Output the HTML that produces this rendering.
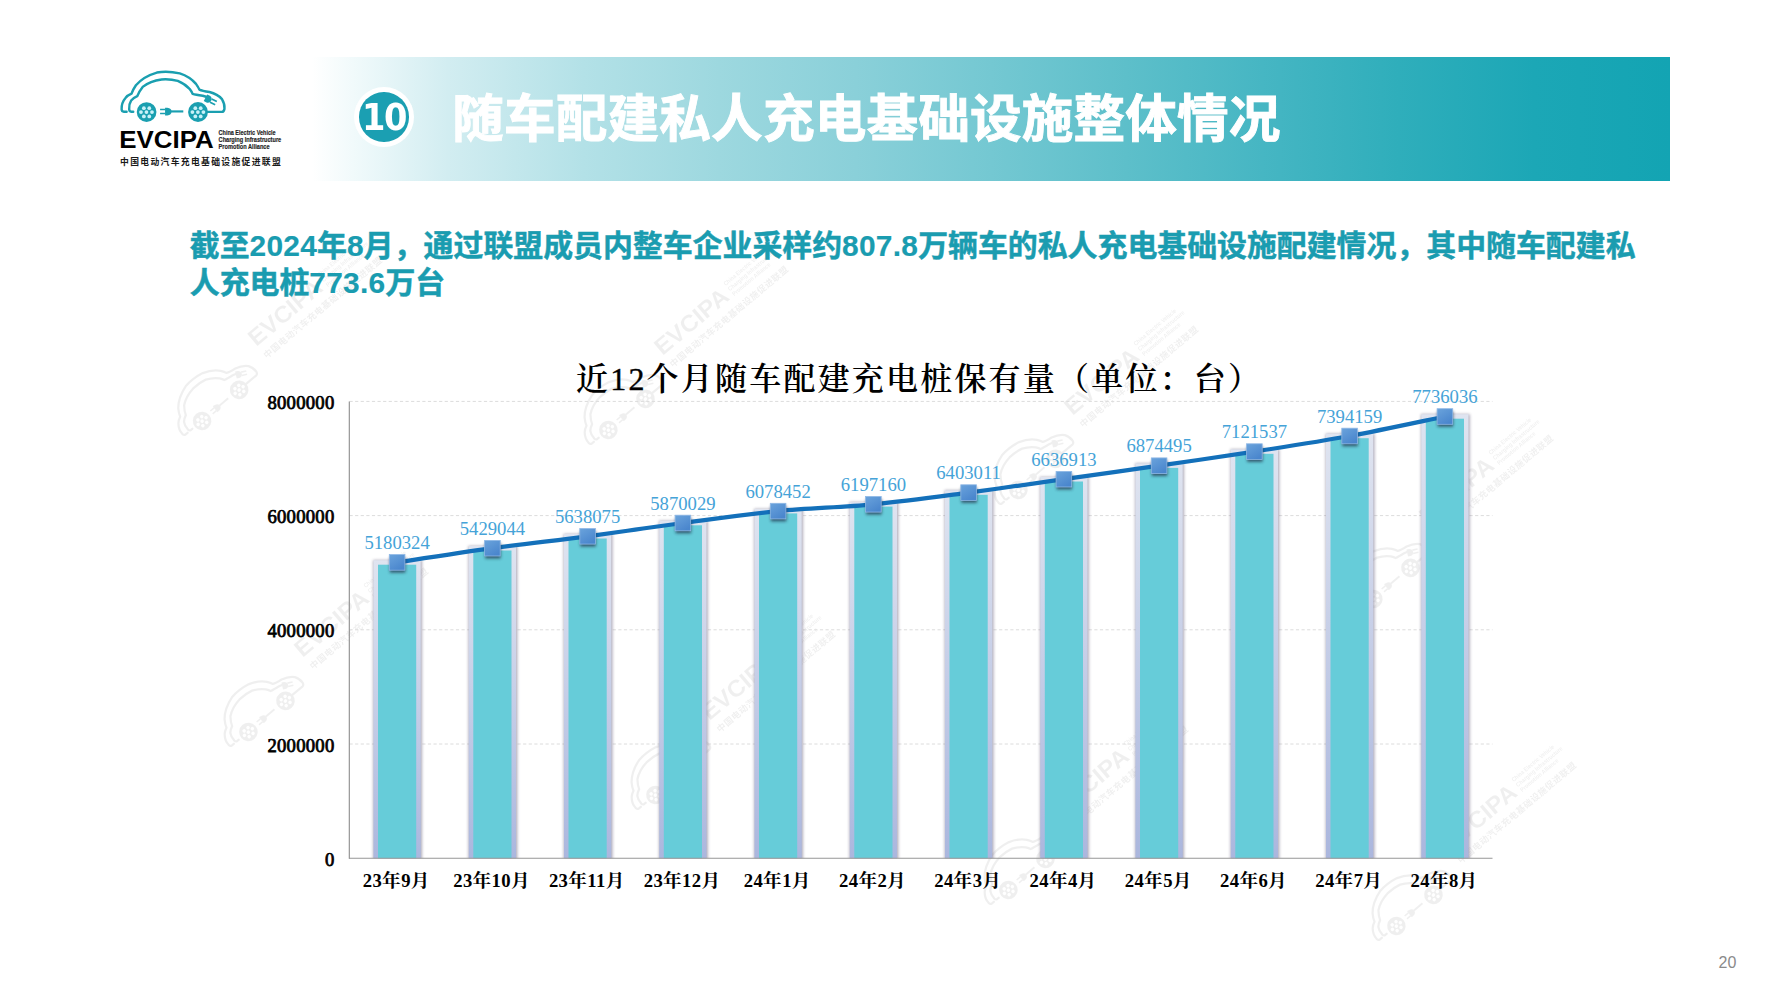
<!DOCTYPE html>
<html lang="zh-CN"><head><meta charset="utf-8"><title>随车配建私人充电基础设施整体情况</title>
<style>
html,body{margin:0;padding:0;background:#fff;}
body{width:1778px;height:1000px;position:relative;overflow:hidden;font-family:"Liberation Sans","Noto Sans CJK SC",sans-serif;}
.banner{position:absolute;left:312px;top:57px;width:1358px;height:124px;background:linear-gradient(90deg,#ffffff 0%,#f1fafb 3%,#d2edf1 10%,#b3e1e7 20%,#9dd8df 30%,#8ad0d9 40%,#74c8d2 50%,#5dbfca 60%,#46b6c3 70%,#2faebb 80%,#1ca7b6 90%,#13a4b3 100%);}
.num{position:absolute;left:354.3px;top:87px;width:60px;height:60px;border-radius:50%;background:#fff;}
.num i{position:absolute;left:5.2px;top:5.2px;width:49.6px;height:49.6px;border-radius:50%;background:#1b9fb2;}
.num b{position:absolute;left:-20px;top:0;width:100px;height:60px;line-height:60px;text-align:center;color:#fff;font:bold 37px/61.6px "DejaVu Sans","Liberation Sans",sans-serif;transform:scaleX(0.91);letter-spacing:-1.6px;}
.title{position:absolute;left:452.3px;top:80px;margin:0;font-size:51.6px;line-height:78px;font-weight:700;color:#fff;white-space:nowrap;letter-spacing:0.17px;-webkit-text-stroke:0.9px #fff;}
.sub{position:absolute;left:189.8px;top:228.3px;width:1462px;margin:0;font-size:29.9px;line-height:36.5px;font-weight:700;color:#1a9cb0;-webkit-text-stroke:0.5px #1a9cb0;}
.sub span{-webkit-text-stroke:0.15px #1a9cb0;letter-spacing:0.25px;}
.pg{position:absolute;left:1718.5px;top:954px;font-size:16px;color:#8a8a8a;}
.chart{position:absolute;left:0;top:0;}
.chart text{font-family:"Liberation Serif","Noto Serif CJK SC",serif;}
.dl{font-size:18.67px;fill:#45a3d8;}
.yl{font-size:18.67px;font-weight:400;fill:#000;stroke:#000;stroke-width:0.75px;letter-spacing:0.25px;}
.xl{font-size:18.67px;font-weight:700;fill:#000;letter-spacing:0.35px;}
.chart text.ct{font-size:32px;fill:#000;letter-spacing:2.2px;font-weight:600;}
.logo{position:absolute;left:0;top:0;}
.wm{position:absolute;left:0;top:0;width:1778px;height:1000px;pointer-events:none;}
</style></head><body>
<svg class="wm" width="1778" height="1000" viewBox="0 0 1778 1000" opacity="0.06">
<g transform="translate(201.7,421) rotate(-40) scale(0.94) translate(-146.2,-111.8)">
<g transform="translate(115,65) scale(0.06749)" fill="none" stroke="#000" stroke-width="36" stroke-linecap="round" stroke-linejoin="round">
<path d="M172,693 L132,693 Q100,690 98,655 Q94,560 158,485 Q185,450 245,425 Q262,370 310,300 Q420,170 620,112 Q780,85 960,125 Q1110,175 1200,280 Q1235,330 1250,365 Q1290,385 1400,400 Q1520,430 1585,505 Q1630,580 1622,650 Q1612,693 1585,695 L1375,695"/>
<path d="M270,693 L242,693 Q212,690 210,655 Q203,585 240,525 Q275,485 330,462 Q350,400 410,325 Q520,235 690,214 Q820,205 930,235 Q1040,280 1110,360 Q1140,400 1150,428 Q1190,440 1300,456 L1350,470"/>
<path d="M830,688 L1012,688" stroke-width="32" stroke-linecap="butt"/>
<path d="M668,660 L745,660 M668,718 L745,718" stroke-width="24" stroke-linecap="butt"/>
<path d="M742,632 L775,632 Q838,640 838,689 Q838,740 775,747 L742,747 Z" fill="#000" stroke="none"/>
<g transform="translate(1385,508) rotate(27)">
<path d="M-50,-56 L-5,-56 Q46,-46 46,0 Q46,46 -5,56 L-50,56 Z" fill="#000" stroke="none"/>
<path d="M40,-27 L125,-27 M40,27 L125,27" stroke-width="25" stroke-linecap="butt"/>
</g>
<circle cx="468" cy="697" r="146" fill="#000" stroke="none"/>
<circle cx="1230" cy="697" r="147" fill="#000" stroke="none"/>
<g fill="#fff" stroke="none">
<circle cx="428" cy="640" r="28"/><circle cx="508" cy="640" r="28"/>
<circle cx="385" cy="698" r="28"/><circle cx="466" cy="698" r="28"/><circle cx="548" cy="698" r="28"/>
<circle cx="428" cy="762" r="28"/><circle cx="508" cy="762" r="28"/>
<circle cx="1190" cy="640" r="28"/><circle cx="1270" cy="640" r="28"/>
<circle cx="1147" cy="698" r="28"/><circle cx="1228" cy="698" r="28"/><circle cx="1310" cy="698" r="28"/>
<circle cx="1190" cy="762" r="28"/><circle cx="1270" cy="762" r="28"/>
</g>
</g>

<g transform="translate(122,-60)">
<text x="119.2" y="148.9" font-family="'Liberation Sans',sans-serif" font-weight="700" font-size="24.9" fill="#000" textLength="94.5" lengthAdjust="spacingAndGlyphs">EVCIPA</text>
<g font-family="'Liberation Sans',sans-serif" font-weight="700" font-size="6.6" fill="#000">
<text x="218.6" y="135" textLength="57" lengthAdjust="spacingAndGlyphs">China Electric Vehicle</text>
<text x="218.6" y="142.1" textLength="62.6" lengthAdjust="spacingAndGlyphs">Charging Infrastructure</text>
<text x="218.6" y="149.1" textLength="51" lengthAdjust="spacingAndGlyphs">Promotion Alliance</text>
</g>
<text x="119.6" y="165.6" font-family="'Noto Sans CJK SC',sans-serif" font-weight="700" font-size="9.6" fill="#000" textLength="161.2" lengthAdjust="spacing">中国电动汽车充电基础设施促进联盟</text>
</g>
</g>
<g transform="translate(608,430) rotate(-40) scale(0.94) translate(-146.2,-111.8)">
<g transform="translate(115,65) scale(0.06749)" fill="none" stroke="#000" stroke-width="36" stroke-linecap="round" stroke-linejoin="round">
<path d="M172,693 L132,693 Q100,690 98,655 Q94,560 158,485 Q185,450 245,425 Q262,370 310,300 Q420,170 620,112 Q780,85 960,125 Q1110,175 1200,280 Q1235,330 1250,365 Q1290,385 1400,400 Q1520,430 1585,505 Q1630,580 1622,650 Q1612,693 1585,695 L1375,695"/>
<path d="M270,693 L242,693 Q212,690 210,655 Q203,585 240,525 Q275,485 330,462 Q350,400 410,325 Q520,235 690,214 Q820,205 930,235 Q1040,280 1110,360 Q1140,400 1150,428 Q1190,440 1300,456 L1350,470"/>
<path d="M830,688 L1012,688" stroke-width="32" stroke-linecap="butt"/>
<path d="M668,660 L745,660 M668,718 L745,718" stroke-width="24" stroke-linecap="butt"/>
<path d="M742,632 L775,632 Q838,640 838,689 Q838,740 775,747 L742,747 Z" fill="#000" stroke="none"/>
<g transform="translate(1385,508) rotate(27)">
<path d="M-50,-56 L-5,-56 Q46,-46 46,0 Q46,46 -5,56 L-50,56 Z" fill="#000" stroke="none"/>
<path d="M40,-27 L125,-27 M40,27 L125,27" stroke-width="25" stroke-linecap="butt"/>
</g>
<circle cx="468" cy="697" r="146" fill="#000" stroke="none"/>
<circle cx="1230" cy="697" r="147" fill="#000" stroke="none"/>
<g fill="#fff" stroke="none">
<circle cx="428" cy="640" r="28"/><circle cx="508" cy="640" r="28"/>
<circle cx="385" cy="698" r="28"/><circle cx="466" cy="698" r="28"/><circle cx="548" cy="698" r="28"/>
<circle cx="428" cy="762" r="28"/><circle cx="508" cy="762" r="28"/>
<circle cx="1190" cy="640" r="28"/><circle cx="1270" cy="640" r="28"/>
<circle cx="1147" cy="698" r="28"/><circle cx="1228" cy="698" r="28"/><circle cx="1310" cy="698" r="28"/>
<circle cx="1190" cy="762" r="28"/><circle cx="1270" cy="762" r="28"/>
</g>
</g>

<g transform="translate(122,-60)">
<text x="119.2" y="148.9" font-family="'Liberation Sans',sans-serif" font-weight="700" font-size="24.9" fill="#000" textLength="94.5" lengthAdjust="spacingAndGlyphs">EVCIPA</text>
<g font-family="'Liberation Sans',sans-serif" font-weight="700" font-size="6.6" fill="#000">
<text x="218.6" y="135" textLength="57" lengthAdjust="spacingAndGlyphs">China Electric Vehicle</text>
<text x="218.6" y="142.1" textLength="62.6" lengthAdjust="spacingAndGlyphs">Charging Infrastructure</text>
<text x="218.6" y="149.1" textLength="51" lengthAdjust="spacingAndGlyphs">Promotion Alliance</text>
</g>
<text x="119.6" y="165.6" font-family="'Noto Sans CJK SC',sans-serif" font-weight="700" font-size="9.6" fill="#000" textLength="161.2" lengthAdjust="spacing">中国电动汽车充电基础设施促进联盟</text>
</g>
</g>
<g transform="translate(248,732) rotate(-40) scale(0.94) translate(-146.2,-111.8)">
<g transform="translate(115,65) scale(0.06749)" fill="none" stroke="#000" stroke-width="36" stroke-linecap="round" stroke-linejoin="round">
<path d="M172,693 L132,693 Q100,690 98,655 Q94,560 158,485 Q185,450 245,425 Q262,370 310,300 Q420,170 620,112 Q780,85 960,125 Q1110,175 1200,280 Q1235,330 1250,365 Q1290,385 1400,400 Q1520,430 1585,505 Q1630,580 1622,650 Q1612,693 1585,695 L1375,695"/>
<path d="M270,693 L242,693 Q212,690 210,655 Q203,585 240,525 Q275,485 330,462 Q350,400 410,325 Q520,235 690,214 Q820,205 930,235 Q1040,280 1110,360 Q1140,400 1150,428 Q1190,440 1300,456 L1350,470"/>
<path d="M830,688 L1012,688" stroke-width="32" stroke-linecap="butt"/>
<path d="M668,660 L745,660 M668,718 L745,718" stroke-width="24" stroke-linecap="butt"/>
<path d="M742,632 L775,632 Q838,640 838,689 Q838,740 775,747 L742,747 Z" fill="#000" stroke="none"/>
<g transform="translate(1385,508) rotate(27)">
<path d="M-50,-56 L-5,-56 Q46,-46 46,0 Q46,46 -5,56 L-50,56 Z" fill="#000" stroke="none"/>
<path d="M40,-27 L125,-27 M40,27 L125,27" stroke-width="25" stroke-linecap="butt"/>
</g>
<circle cx="468" cy="697" r="146" fill="#000" stroke="none"/>
<circle cx="1230" cy="697" r="147" fill="#000" stroke="none"/>
<g fill="#fff" stroke="none">
<circle cx="428" cy="640" r="28"/><circle cx="508" cy="640" r="28"/>
<circle cx="385" cy="698" r="28"/><circle cx="466" cy="698" r="28"/><circle cx="548" cy="698" r="28"/>
<circle cx="428" cy="762" r="28"/><circle cx="508" cy="762" r="28"/>
<circle cx="1190" cy="640" r="28"/><circle cx="1270" cy="640" r="28"/>
<circle cx="1147" cy="698" r="28"/><circle cx="1228" cy="698" r="28"/><circle cx="1310" cy="698" r="28"/>
<circle cx="1190" cy="762" r="28"/><circle cx="1270" cy="762" r="28"/>
</g>
</g>

<g transform="translate(122,-60)">
<text x="119.2" y="148.9" font-family="'Liberation Sans',sans-serif" font-weight="700" font-size="24.9" fill="#000" textLength="94.5" lengthAdjust="spacingAndGlyphs">EVCIPA</text>
<g font-family="'Liberation Sans',sans-serif" font-weight="700" font-size="6.6" fill="#000">
<text x="218.6" y="135" textLength="57" lengthAdjust="spacingAndGlyphs">China Electric Vehicle</text>
<text x="218.6" y="142.1" textLength="62.6" lengthAdjust="spacingAndGlyphs">Charging Infrastructure</text>
<text x="218.6" y="149.1" textLength="51" lengthAdjust="spacingAndGlyphs">Promotion Alliance</text>
</g>
<text x="119.6" y="165.6" font-family="'Noto Sans CJK SC',sans-serif" font-weight="700" font-size="9.6" fill="#000" textLength="161.2" lengthAdjust="spacing">中国电动汽车充电基础设施促进联盟</text>
</g>
</g>
<g transform="translate(655,795) rotate(-40) scale(0.94) translate(-146.2,-111.8)">
<g transform="translate(115,65) scale(0.06749)" fill="none" stroke="#000" stroke-width="36" stroke-linecap="round" stroke-linejoin="round">
<path d="M172,693 L132,693 Q100,690 98,655 Q94,560 158,485 Q185,450 245,425 Q262,370 310,300 Q420,170 620,112 Q780,85 960,125 Q1110,175 1200,280 Q1235,330 1250,365 Q1290,385 1400,400 Q1520,430 1585,505 Q1630,580 1622,650 Q1612,693 1585,695 L1375,695"/>
<path d="M270,693 L242,693 Q212,690 210,655 Q203,585 240,525 Q275,485 330,462 Q350,400 410,325 Q520,235 690,214 Q820,205 930,235 Q1040,280 1110,360 Q1140,400 1150,428 Q1190,440 1300,456 L1350,470"/>
<path d="M830,688 L1012,688" stroke-width="32" stroke-linecap="butt"/>
<path d="M668,660 L745,660 M668,718 L745,718" stroke-width="24" stroke-linecap="butt"/>
<path d="M742,632 L775,632 Q838,640 838,689 Q838,740 775,747 L742,747 Z" fill="#000" stroke="none"/>
<g transform="translate(1385,508) rotate(27)">
<path d="M-50,-56 L-5,-56 Q46,-46 46,0 Q46,46 -5,56 L-50,56 Z" fill="#000" stroke="none"/>
<path d="M40,-27 L125,-27 M40,27 L125,27" stroke-width="25" stroke-linecap="butt"/>
</g>
<circle cx="468" cy="697" r="146" fill="#000" stroke="none"/>
<circle cx="1230" cy="697" r="147" fill="#000" stroke="none"/>
<g fill="#fff" stroke="none">
<circle cx="428" cy="640" r="28"/><circle cx="508" cy="640" r="28"/>
<circle cx="385" cy="698" r="28"/><circle cx="466" cy="698" r="28"/><circle cx="548" cy="698" r="28"/>
<circle cx="428" cy="762" r="28"/><circle cx="508" cy="762" r="28"/>
<circle cx="1190" cy="640" r="28"/><circle cx="1270" cy="640" r="28"/>
<circle cx="1147" cy="698" r="28"/><circle cx="1228" cy="698" r="28"/><circle cx="1310" cy="698" r="28"/>
<circle cx="1190" cy="762" r="28"/><circle cx="1270" cy="762" r="28"/>
</g>
</g>

<g transform="translate(122,-60)">
<text x="119.2" y="148.9" font-family="'Liberation Sans',sans-serif" font-weight="700" font-size="24.9" fill="#000" textLength="94.5" lengthAdjust="spacingAndGlyphs">EVCIPA</text>
<g font-family="'Liberation Sans',sans-serif" font-weight="700" font-size="6.6" fill="#000">
<text x="218.6" y="135" textLength="57" lengthAdjust="spacingAndGlyphs">China Electric Vehicle</text>
<text x="218.6" y="142.1" textLength="62.6" lengthAdjust="spacingAndGlyphs">Charging Infrastructure</text>
<text x="218.6" y="149.1" textLength="51" lengthAdjust="spacingAndGlyphs">Promotion Alliance</text>
</g>
<text x="119.6" y="165.6" font-family="'Noto Sans CJK SC',sans-serif" font-weight="700" font-size="9.6" fill="#000" textLength="161.2" lengthAdjust="spacing">中国电动汽车充电基础设施促进联盟</text>
</g>
</g>
<g transform="translate(1018,490) rotate(-40) scale(0.94) translate(-146.2,-111.8)">
<g transform="translate(115,65) scale(0.06749)" fill="none" stroke="#000" stroke-width="36" stroke-linecap="round" stroke-linejoin="round">
<path d="M172,693 L132,693 Q100,690 98,655 Q94,560 158,485 Q185,450 245,425 Q262,370 310,300 Q420,170 620,112 Q780,85 960,125 Q1110,175 1200,280 Q1235,330 1250,365 Q1290,385 1400,400 Q1520,430 1585,505 Q1630,580 1622,650 Q1612,693 1585,695 L1375,695"/>
<path d="M270,693 L242,693 Q212,690 210,655 Q203,585 240,525 Q275,485 330,462 Q350,400 410,325 Q520,235 690,214 Q820,205 930,235 Q1040,280 1110,360 Q1140,400 1150,428 Q1190,440 1300,456 L1350,470"/>
<path d="M830,688 L1012,688" stroke-width="32" stroke-linecap="butt"/>
<path d="M668,660 L745,660 M668,718 L745,718" stroke-width="24" stroke-linecap="butt"/>
<path d="M742,632 L775,632 Q838,640 838,689 Q838,740 775,747 L742,747 Z" fill="#000" stroke="none"/>
<g transform="translate(1385,508) rotate(27)">
<path d="M-50,-56 L-5,-56 Q46,-46 46,0 Q46,46 -5,56 L-50,56 Z" fill="#000" stroke="none"/>
<path d="M40,-27 L125,-27 M40,27 L125,27" stroke-width="25" stroke-linecap="butt"/>
</g>
<circle cx="468" cy="697" r="146" fill="#000" stroke="none"/>
<circle cx="1230" cy="697" r="147" fill="#000" stroke="none"/>
<g fill="#fff" stroke="none">
<circle cx="428" cy="640" r="28"/><circle cx="508" cy="640" r="28"/>
<circle cx="385" cy="698" r="28"/><circle cx="466" cy="698" r="28"/><circle cx="548" cy="698" r="28"/>
<circle cx="428" cy="762" r="28"/><circle cx="508" cy="762" r="28"/>
<circle cx="1190" cy="640" r="28"/><circle cx="1270" cy="640" r="28"/>
<circle cx="1147" cy="698" r="28"/><circle cx="1228" cy="698" r="28"/><circle cx="1310" cy="698" r="28"/>
<circle cx="1190" cy="762" r="28"/><circle cx="1270" cy="762" r="28"/>
</g>
</g>

<g transform="translate(122,-60)">
<text x="119.2" y="148.9" font-family="'Liberation Sans',sans-serif" font-weight="700" font-size="24.9" fill="#000" textLength="94.5" lengthAdjust="spacingAndGlyphs">EVCIPA</text>
<g font-family="'Liberation Sans',sans-serif" font-weight="700" font-size="6.6" fill="#000">
<text x="218.6" y="135" textLength="57" lengthAdjust="spacingAndGlyphs">China Electric Vehicle</text>
<text x="218.6" y="142.1" textLength="62.6" lengthAdjust="spacingAndGlyphs">Charging Infrastructure</text>
<text x="218.6" y="149.1" textLength="51" lengthAdjust="spacingAndGlyphs">Promotion Alliance</text>
</g>
<text x="119.6" y="165.6" font-family="'Noto Sans CJK SC',sans-serif" font-weight="700" font-size="9.6" fill="#000" textLength="161.2" lengthAdjust="spacing">中国电动汽车充电基础设施促进联盟</text>
</g>
</g>
<g transform="translate(1373,599) rotate(-40) scale(0.94) translate(-146.2,-111.8)">
<g transform="translate(115,65) scale(0.06749)" fill="none" stroke="#000" stroke-width="36" stroke-linecap="round" stroke-linejoin="round">
<path d="M172,693 L132,693 Q100,690 98,655 Q94,560 158,485 Q185,450 245,425 Q262,370 310,300 Q420,170 620,112 Q780,85 960,125 Q1110,175 1200,280 Q1235,330 1250,365 Q1290,385 1400,400 Q1520,430 1585,505 Q1630,580 1622,650 Q1612,693 1585,695 L1375,695"/>
<path d="M270,693 L242,693 Q212,690 210,655 Q203,585 240,525 Q275,485 330,462 Q350,400 410,325 Q520,235 690,214 Q820,205 930,235 Q1040,280 1110,360 Q1140,400 1150,428 Q1190,440 1300,456 L1350,470"/>
<path d="M830,688 L1012,688" stroke-width="32" stroke-linecap="butt"/>
<path d="M668,660 L745,660 M668,718 L745,718" stroke-width="24" stroke-linecap="butt"/>
<path d="M742,632 L775,632 Q838,640 838,689 Q838,740 775,747 L742,747 Z" fill="#000" stroke="none"/>
<g transform="translate(1385,508) rotate(27)">
<path d="M-50,-56 L-5,-56 Q46,-46 46,0 Q46,46 -5,56 L-50,56 Z" fill="#000" stroke="none"/>
<path d="M40,-27 L125,-27 M40,27 L125,27" stroke-width="25" stroke-linecap="butt"/>
</g>
<circle cx="468" cy="697" r="146" fill="#000" stroke="none"/>
<circle cx="1230" cy="697" r="147" fill="#000" stroke="none"/>
<g fill="#fff" stroke="none">
<circle cx="428" cy="640" r="28"/><circle cx="508" cy="640" r="28"/>
<circle cx="385" cy="698" r="28"/><circle cx="466" cy="698" r="28"/><circle cx="548" cy="698" r="28"/>
<circle cx="428" cy="762" r="28"/><circle cx="508" cy="762" r="28"/>
<circle cx="1190" cy="640" r="28"/><circle cx="1270" cy="640" r="28"/>
<circle cx="1147" cy="698" r="28"/><circle cx="1228" cy="698" r="28"/><circle cx="1310" cy="698" r="28"/>
<circle cx="1190" cy="762" r="28"/><circle cx="1270" cy="762" r="28"/>
</g>
</g>

<g transform="translate(122,-60)">
<text x="119.2" y="148.9" font-family="'Liberation Sans',sans-serif" font-weight="700" font-size="24.9" fill="#000" textLength="94.5" lengthAdjust="spacingAndGlyphs">EVCIPA</text>
<g font-family="'Liberation Sans',sans-serif" font-weight="700" font-size="6.6" fill="#000">
<text x="218.6" y="135" textLength="57" lengthAdjust="spacingAndGlyphs">China Electric Vehicle</text>
<text x="218.6" y="142.1" textLength="62.6" lengthAdjust="spacingAndGlyphs">Charging Infrastructure</text>
<text x="218.6" y="149.1" textLength="51" lengthAdjust="spacingAndGlyphs">Promotion Alliance</text>
</g>
<text x="119.6" y="165.6" font-family="'Noto Sans CJK SC',sans-serif" font-weight="700" font-size="9.6" fill="#000" textLength="161.2" lengthAdjust="spacing">中国电动汽车充电基础设施促进联盟</text>
</g>
</g>
<g transform="translate(1008,890) rotate(-40) scale(0.94) translate(-146.2,-111.8)">
<g transform="translate(115,65) scale(0.06749)" fill="none" stroke="#000" stroke-width="36" stroke-linecap="round" stroke-linejoin="round">
<path d="M172,693 L132,693 Q100,690 98,655 Q94,560 158,485 Q185,450 245,425 Q262,370 310,300 Q420,170 620,112 Q780,85 960,125 Q1110,175 1200,280 Q1235,330 1250,365 Q1290,385 1400,400 Q1520,430 1585,505 Q1630,580 1622,650 Q1612,693 1585,695 L1375,695"/>
<path d="M270,693 L242,693 Q212,690 210,655 Q203,585 240,525 Q275,485 330,462 Q350,400 410,325 Q520,235 690,214 Q820,205 930,235 Q1040,280 1110,360 Q1140,400 1150,428 Q1190,440 1300,456 L1350,470"/>
<path d="M830,688 L1012,688" stroke-width="32" stroke-linecap="butt"/>
<path d="M668,660 L745,660 M668,718 L745,718" stroke-width="24" stroke-linecap="butt"/>
<path d="M742,632 L775,632 Q838,640 838,689 Q838,740 775,747 L742,747 Z" fill="#000" stroke="none"/>
<g transform="translate(1385,508) rotate(27)">
<path d="M-50,-56 L-5,-56 Q46,-46 46,0 Q46,46 -5,56 L-50,56 Z" fill="#000" stroke="none"/>
<path d="M40,-27 L125,-27 M40,27 L125,27" stroke-width="25" stroke-linecap="butt"/>
</g>
<circle cx="468" cy="697" r="146" fill="#000" stroke="none"/>
<circle cx="1230" cy="697" r="147" fill="#000" stroke="none"/>
<g fill="#fff" stroke="none">
<circle cx="428" cy="640" r="28"/><circle cx="508" cy="640" r="28"/>
<circle cx="385" cy="698" r="28"/><circle cx="466" cy="698" r="28"/><circle cx="548" cy="698" r="28"/>
<circle cx="428" cy="762" r="28"/><circle cx="508" cy="762" r="28"/>
<circle cx="1190" cy="640" r="28"/><circle cx="1270" cy="640" r="28"/>
<circle cx="1147" cy="698" r="28"/><circle cx="1228" cy="698" r="28"/><circle cx="1310" cy="698" r="28"/>
<circle cx="1190" cy="762" r="28"/><circle cx="1270" cy="762" r="28"/>
</g>
</g>

<g transform="translate(122,-60)">
<text x="119.2" y="148.9" font-family="'Liberation Sans',sans-serif" font-weight="700" font-size="24.9" fill="#000" textLength="94.5" lengthAdjust="spacingAndGlyphs">EVCIPA</text>
<g font-family="'Liberation Sans',sans-serif" font-weight="700" font-size="6.6" fill="#000">
<text x="218.6" y="135" textLength="57" lengthAdjust="spacingAndGlyphs">China Electric Vehicle</text>
<text x="218.6" y="142.1" textLength="62.6" lengthAdjust="spacingAndGlyphs">Charging Infrastructure</text>
<text x="218.6" y="149.1" textLength="51" lengthAdjust="spacingAndGlyphs">Promotion Alliance</text>
</g>
<text x="119.6" y="165.6" font-family="'Noto Sans CJK SC',sans-serif" font-weight="700" font-size="9.6" fill="#000" textLength="161.2" lengthAdjust="spacing">中国电动汽车充电基础设施促进联盟</text>
</g>
</g>
<g transform="translate(1396,926) rotate(-40) scale(0.94) translate(-146.2,-111.8)">
<g transform="translate(115,65) scale(0.06749)" fill="none" stroke="#000" stroke-width="36" stroke-linecap="round" stroke-linejoin="round">
<path d="M172,693 L132,693 Q100,690 98,655 Q94,560 158,485 Q185,450 245,425 Q262,370 310,300 Q420,170 620,112 Q780,85 960,125 Q1110,175 1200,280 Q1235,330 1250,365 Q1290,385 1400,400 Q1520,430 1585,505 Q1630,580 1622,650 Q1612,693 1585,695 L1375,695"/>
<path d="M270,693 L242,693 Q212,690 210,655 Q203,585 240,525 Q275,485 330,462 Q350,400 410,325 Q520,235 690,214 Q820,205 930,235 Q1040,280 1110,360 Q1140,400 1150,428 Q1190,440 1300,456 L1350,470"/>
<path d="M830,688 L1012,688" stroke-width="32" stroke-linecap="butt"/>
<path d="M668,660 L745,660 M668,718 L745,718" stroke-width="24" stroke-linecap="butt"/>
<path d="M742,632 L775,632 Q838,640 838,689 Q838,740 775,747 L742,747 Z" fill="#000" stroke="none"/>
<g transform="translate(1385,508) rotate(27)">
<path d="M-50,-56 L-5,-56 Q46,-46 46,0 Q46,46 -5,56 L-50,56 Z" fill="#000" stroke="none"/>
<path d="M40,-27 L125,-27 M40,27 L125,27" stroke-width="25" stroke-linecap="butt"/>
</g>
<circle cx="468" cy="697" r="146" fill="#000" stroke="none"/>
<circle cx="1230" cy="697" r="147" fill="#000" stroke="none"/>
<g fill="#fff" stroke="none">
<circle cx="428" cy="640" r="28"/><circle cx="508" cy="640" r="28"/>
<circle cx="385" cy="698" r="28"/><circle cx="466" cy="698" r="28"/><circle cx="548" cy="698" r="28"/>
<circle cx="428" cy="762" r="28"/><circle cx="508" cy="762" r="28"/>
<circle cx="1190" cy="640" r="28"/><circle cx="1270" cy="640" r="28"/>
<circle cx="1147" cy="698" r="28"/><circle cx="1228" cy="698" r="28"/><circle cx="1310" cy="698" r="28"/>
<circle cx="1190" cy="762" r="28"/><circle cx="1270" cy="762" r="28"/>
</g>
</g>

<g transform="translate(122,-60)">
<text x="119.2" y="148.9" font-family="'Liberation Sans',sans-serif" font-weight="700" font-size="24.9" fill="#000" textLength="94.5" lengthAdjust="spacingAndGlyphs">EVCIPA</text>
<g font-family="'Liberation Sans',sans-serif" font-weight="700" font-size="6.6" fill="#000">
<text x="218.6" y="135" textLength="57" lengthAdjust="spacingAndGlyphs">China Electric Vehicle</text>
<text x="218.6" y="142.1" textLength="62.6" lengthAdjust="spacingAndGlyphs">Charging Infrastructure</text>
<text x="218.6" y="149.1" textLength="51" lengthAdjust="spacingAndGlyphs">Promotion Alliance</text>
</g>
<text x="119.6" y="165.6" font-family="'Noto Sans CJK SC',sans-serif" font-weight="700" font-size="9.6" fill="#000" textLength="161.2" lengthAdjust="spacing">中国电动汽车充电基础设施促进联盟</text>
</g>
</g>
</svg>
<svg class="logo" width="320" height="190" viewBox="0 0 320 190">
<g transform="translate(115,65) scale(0.06749)" fill="none" stroke="#1a9fb0" stroke-width="36" stroke-linecap="round" stroke-linejoin="round">
<path d="M172,693 L132,693 Q100,690 98,655 Q94,560 158,485 Q185,450 245,425 Q262,370 310,300 Q420,170 620,112 Q780,85 960,125 Q1110,175 1200,280 Q1235,330 1250,365 Q1290,385 1400,400 Q1520,430 1585,505 Q1630,580 1622,650 Q1612,693 1585,695 L1375,695"/>
<path d="M270,693 L242,693 Q212,690 210,655 Q203,585 240,525 Q275,485 330,462 Q350,400 410,325 Q520,235 690,214 Q820,205 930,235 Q1040,280 1110,360 Q1140,400 1150,428 Q1190,440 1300,456 L1350,470"/>
<path d="M830,688 L1012,688" stroke-width="32" stroke-linecap="butt"/>
<path d="M668,660 L745,660 M668,718 L745,718" stroke-width="24" stroke-linecap="butt"/>
<path d="M742,632 L775,632 Q838,640 838,689 Q838,740 775,747 L742,747 Z" fill="#1a9fb0" stroke="none"/>
<g transform="translate(1385,508) rotate(27)">
<path d="M-50,-56 L-5,-56 Q46,-46 46,0 Q46,46 -5,56 L-50,56 Z" fill="#1a9fb0" stroke="none"/>
<path d="M40,-27 L125,-27 M40,27 L125,27" stroke-width="25" stroke-linecap="butt"/>
</g>
<circle cx="468" cy="697" r="146" fill="#1a9fb0" stroke="none"/>
<circle cx="1230" cy="697" r="147" fill="#1a9fb0" stroke="none"/>
<g fill="#c9f1f8" stroke="none">
<circle cx="428" cy="640" r="28"/><circle cx="508" cy="640" r="28"/>
<circle cx="385" cy="698" r="28"/><circle cx="466" cy="698" r="28"/><circle cx="548" cy="698" r="28"/>
<circle cx="428" cy="762" r="28"/><circle cx="508" cy="762" r="28"/>
<circle cx="1190" cy="640" r="28"/><circle cx="1270" cy="640" r="28"/>
<circle cx="1147" cy="698" r="28"/><circle cx="1228" cy="698" r="28"/><circle cx="1310" cy="698" r="28"/>
<circle cx="1190" cy="762" r="28"/><circle cx="1270" cy="762" r="28"/>
</g>
</g>
<text x="119.2" y="148.2" font-family="'Liberation Sans',sans-serif" font-weight="700" font-size="24.5" fill="#000" textLength="94.5" lengthAdjust="spacingAndGlyphs">EVCIPA</text>
<g font-family="'Liberation Sans',sans-serif" font-weight="700" font-size="6.6" fill="#222" stroke="#222" stroke-width="0.15">
<text x="218.6" y="135" textLength="57" lengthAdjust="spacingAndGlyphs">China Electric Vehicle</text>
<text x="218.6" y="142.1" textLength="62.6" lengthAdjust="spacingAndGlyphs">Charging Infrastructure</text>
<text x="218.6" y="149.1" textLength="51" lengthAdjust="spacingAndGlyphs">Promotion Alliance</text>
</g>
<text x="120" y="165.3" font-family="'Noto Sans CJK SC',sans-serif" font-weight="700" font-size="8.8" fill="#1a1a1a" textLength="160.8" lengthAdjust="spacing">中国电动汽车充电基础设施促进联盟</text>
</svg>

<div class="banner"></div>
<div class="num"><i></i><b>10</b></div>
<h1 class="title">随车配建私人充电基础设施整体情况</h1>
<p class="sub">截至<span>2024</span>年<span>8</span>月，通过联盟成员内整车企业采样约<span>807.8</span>万辆车的私人充电基础设施配建情况，其中随车配建私人充电桩<span>773.6</span>万台</p>
<svg class="chart" width="1778" height="1000" viewBox="0 0 1778 1000">
<defs>
<linearGradient id="bd" x1="0" y1="0" x2="0" y2="1"><stop offset="0" stop-color="#dfe4f0"/><stop offset="1" stop-color="#a9b5dd"/></linearGradient>
<linearGradient id="mk" x1="0" y1="0" x2="0.6" y2="1"><stop offset="0" stop-color="#6aa3dc"/><stop offset="1" stop-color="#4a86cd"/></linearGradient>
<filter id="sh" x="-30%" y="-5%" width="160%" height="110%"><feGaussianBlur stdDeviation="1.6"/></filter>
<filter id="msh" x="-50%" y="-50%" width="200%" height="200%"><feGaussianBlur stdDeviation="1.8"/></filter>
<clipPath id="plot"><rect x="340" y="380" width="1170" height="478.2"/></clipPath>
</defs>
<line x1="349.5" y1="744.0" x2="1492.5" y2="744.0" stroke="#dcdcdc" stroke-width="1" stroke-dasharray="3.2 2.4"/>
<line x1="349.5" y1="629.8" x2="1492.5" y2="629.8" stroke="#dcdcdc" stroke-width="1" stroke-dasharray="3.2 2.4"/>
<line x1="349.5" y1="515.6" x2="1492.5" y2="515.6" stroke="#dcdcdc" stroke-width="1" stroke-dasharray="3.2 2.4"/>
<line x1="349.5" y1="401.4" x2="1492.5" y2="401.4" stroke="#dcdcdc" stroke-width="1" stroke-dasharray="3.2 2.4"/>
<g clip-path="url(#plot)">
<rect x="373.2" y="560.2" width="48.8" height="310.3" fill="#6b6580" opacity="0.55" filter="url(#sh)"/>
<rect x="373.5" y="560.2" width="47.2" height="310.3" fill="url(#bd)"/>
<rect x="378.0" y="564.7" width="38.2" height="305.8" fill="#66ccd9"/>
<rect x="468.5" y="546.0" width="48.8" height="324.5" fill="#6b6580" opacity="0.55" filter="url(#sh)"/>
<rect x="468.8" y="546.0" width="47.2" height="324.5" fill="url(#bd)"/>
<rect x="473.3" y="550.5" width="38.2" height="320.0" fill="#66ccd9"/>
<rect x="563.7" y="534.0" width="48.8" height="336.4" fill="#6b6580" opacity="0.55" filter="url(#sh)"/>
<rect x="564.0" y="534.0" width="47.2" height="336.4" fill="url(#bd)"/>
<rect x="568.5" y="538.5" width="38.2" height="331.9" fill="#66ccd9"/>
<rect x="659.0" y="520.8" width="48.8" height="349.7" fill="#6b6580" opacity="0.55" filter="url(#sh)"/>
<rect x="659.3" y="520.8" width="47.2" height="349.7" fill="url(#bd)"/>
<rect x="663.8" y="525.3" width="38.2" height="345.2" fill="#66ccd9"/>
<rect x="754.2" y="508.9" width="48.8" height="361.6" fill="#6b6580" opacity="0.55" filter="url(#sh)"/>
<rect x="754.5" y="508.9" width="47.2" height="361.6" fill="url(#bd)"/>
<rect x="759.0" y="513.4" width="38.2" height="357.1" fill="#66ccd9"/>
<rect x="849.5" y="502.1" width="48.8" height="368.4" fill="#6b6580" opacity="0.55" filter="url(#sh)"/>
<rect x="849.8" y="502.1" width="47.2" height="368.4" fill="url(#bd)"/>
<rect x="854.3" y="506.6" width="38.2" height="363.9" fill="#66ccd9"/>
<rect x="944.7" y="490.3" width="48.8" height="380.1" fill="#6b6580" opacity="0.55" filter="url(#sh)"/>
<rect x="945.0" y="490.3" width="47.2" height="380.1" fill="url(#bd)"/>
<rect x="949.5" y="494.8" width="38.2" height="375.6" fill="#66ccd9"/>
<rect x="1040.0" y="477.0" width="48.8" height="393.5" fill="#6b6580" opacity="0.55" filter="url(#sh)"/>
<rect x="1040.3" y="477.0" width="47.2" height="393.5" fill="url(#bd)"/>
<rect x="1044.8" y="481.5" width="38.2" height="389.0" fill="#66ccd9"/>
<rect x="1135.2" y="463.4" width="48.8" height="407.0" fill="#6b6580" opacity="0.55" filter="url(#sh)"/>
<rect x="1135.5" y="463.4" width="47.2" height="407.0" fill="url(#bd)"/>
<rect x="1140.0" y="467.9" width="38.2" height="402.5" fill="#66ccd9"/>
<rect x="1230.5" y="449.3" width="48.8" height="421.1" fill="#6b6580" opacity="0.55" filter="url(#sh)"/>
<rect x="1230.8" y="449.3" width="47.2" height="421.1" fill="url(#bd)"/>
<rect x="1235.3" y="453.8" width="38.2" height="416.6" fill="#66ccd9"/>
<rect x="1325.7" y="433.7" width="48.8" height="436.7" fill="#6b6580" opacity="0.55" filter="url(#sh)"/>
<rect x="1326.0" y="433.7" width="47.2" height="436.7" fill="url(#bd)"/>
<rect x="1330.5" y="438.2" width="38.2" height="432.2" fill="#66ccd9"/>
<rect x="1421.0" y="414.2" width="48.8" height="456.2" fill="#6b6580" opacity="0.55" filter="url(#sh)"/>
<rect x="1421.3" y="414.2" width="47.2" height="456.2" fill="url(#bd)"/>
<rect x="1425.8" y="418.7" width="38.2" height="451.7" fill="#66ccd9"/>
</g>
<line x1="349.3" y1="401.4" x2="349.3" y2="858.7" stroke="#8c8c8c" stroke-width="1.1"/>
<line x1="349.0" y1="858.2" x2="1492.5" y2="858.2" stroke="#969696" stroke-width="1.1"/>
<path d="M397.1,562.4 C413.0,560.0 460.6,552.6 492.4,548.2 C524.1,543.8 555.9,540.5 587.6,536.3 C619.4,532.1 651.1,527.2 682.9,523.0 C714.6,518.8 746.4,514.2 778.1,511.1 C809.9,508.0 841.6,507.4 873.4,504.3 C905.1,501.3 936.9,496.8 968.6,492.6 C1000.4,488.4 1032.1,483.7 1063.9,479.2 C1095.6,474.7 1127.4,470.3 1159.1,465.7 C1190.9,461.1 1222.6,456.5 1254.4,451.6 C1286.1,446.6 1317.9,441.8 1349.6,436.0 C1381.4,430.1 1429.0,419.7 1444.9,416.5" fill="none" stroke="#1370ba" stroke-width="4.2" stroke-linecap="round" stroke-linejoin="round"/>
<rect x="389.8" y="557.1" width="15.6" height="15.6" fill="#1f2a44" opacity="0.7" filter="url(#msh)"/>
<rect x="389.3" y="554.6" width="15.6" height="15.6" fill="url(#mk)" stroke="#8fb8e6" stroke-width="0.8"/>
<rect x="485.1" y="542.9" width="15.6" height="15.6" fill="#1f2a44" opacity="0.7" filter="url(#msh)"/>
<rect x="484.6" y="540.4" width="15.6" height="15.6" fill="url(#mk)" stroke="#8fb8e6" stroke-width="0.8"/>
<rect x="580.3" y="531.0" width="15.6" height="15.6" fill="#1f2a44" opacity="0.7" filter="url(#msh)"/>
<rect x="579.8" y="528.5" width="15.6" height="15.6" fill="url(#mk)" stroke="#8fb8e6" stroke-width="0.8"/>
<rect x="675.6" y="517.7" width="15.6" height="15.6" fill="#1f2a44" opacity="0.7" filter="url(#msh)"/>
<rect x="675.1" y="515.2" width="15.6" height="15.6" fill="url(#mk)" stroke="#8fb8e6" stroke-width="0.8"/>
<rect x="770.8" y="505.8" width="15.6" height="15.6" fill="#1f2a44" opacity="0.7" filter="url(#msh)"/>
<rect x="770.3" y="503.3" width="15.6" height="15.6" fill="url(#mk)" stroke="#8fb8e6" stroke-width="0.8"/>
<rect x="866.1" y="499.0" width="15.6" height="15.6" fill="#1f2a44" opacity="0.7" filter="url(#msh)"/>
<rect x="865.6" y="496.5" width="15.6" height="15.6" fill="url(#mk)" stroke="#8fb8e6" stroke-width="0.8"/>
<rect x="961.3" y="487.3" width="15.6" height="15.6" fill="#1f2a44" opacity="0.7" filter="url(#msh)"/>
<rect x="960.8" y="484.8" width="15.6" height="15.6" fill="url(#mk)" stroke="#8fb8e6" stroke-width="0.8"/>
<rect x="1056.6" y="473.9" width="15.6" height="15.6" fill="#1f2a44" opacity="0.7" filter="url(#msh)"/>
<rect x="1056.1" y="471.4" width="15.6" height="15.6" fill="url(#mk)" stroke="#8fb8e6" stroke-width="0.8"/>
<rect x="1151.8" y="460.4" width="15.6" height="15.6" fill="#1f2a44" opacity="0.7" filter="url(#msh)"/>
<rect x="1151.3" y="457.9" width="15.6" height="15.6" fill="url(#mk)" stroke="#8fb8e6" stroke-width="0.8"/>
<rect x="1247.1" y="446.3" width="15.6" height="15.6" fill="#1f2a44" opacity="0.7" filter="url(#msh)"/>
<rect x="1246.6" y="443.8" width="15.6" height="15.6" fill="url(#mk)" stroke="#8fb8e6" stroke-width="0.8"/>
<rect x="1342.3" y="430.7" width="15.6" height="15.6" fill="#1f2a44" opacity="0.7" filter="url(#msh)"/>
<rect x="1341.8" y="428.2" width="15.6" height="15.6" fill="url(#mk)" stroke="#8fb8e6" stroke-width="0.8"/>
<rect x="1437.6" y="411.2" width="15.6" height="15.6" fill="#1f2a44" opacity="0.7" filter="url(#msh)"/>
<rect x="1437.1" y="408.7" width="15.6" height="15.6" fill="url(#mk)" stroke="#8fb8e6" stroke-width="0.8"/>
<text class="dl" x="397.1" y="549.0" text-anchor="middle">5180324</text>
<text class="dl" x="492.4" y="534.8" text-anchor="middle">5429044</text>
<text class="dl" x="587.6" y="522.9" text-anchor="middle">5638075</text>
<text class="dl" x="682.9" y="509.6" text-anchor="middle">5870029</text>
<text class="dl" x="778.1" y="497.7" text-anchor="middle">6078452</text>
<text class="dl" x="873.4" y="490.9" text-anchor="middle">6197160</text>
<text class="dl" x="968.6" y="479.2" text-anchor="middle">6403011</text>
<text class="dl" x="1063.9" y="465.8" text-anchor="middle">6636913</text>
<text class="dl" x="1159.1" y="452.3" text-anchor="middle">6874495</text>
<text class="dl" x="1254.4" y="438.2" text-anchor="middle">7121537</text>
<text class="dl" x="1349.6" y="422.6" text-anchor="middle">7394159</text>
<text class="dl" x="1444.9" y="403.1" text-anchor="middle">7736036</text>
<text class="yl" x="334.5" y="865.8" text-anchor="end">0</text>
<text class="yl" x="334.5" y="751.6" text-anchor="end">2000000</text>
<text class="yl" x="334.5" y="637.4" text-anchor="end">4000000</text>
<text class="yl" x="334.5" y="523.2" text-anchor="end">6000000</text>
<text class="yl" x="334.5" y="409.0" text-anchor="end">8000000</text>
<text class="xl" x="396.3" y="886.9" text-anchor="middle">23年9月</text>
<text class="xl" x="491.6" y="886.9" text-anchor="middle">23年10月</text>
<text class="xl" x="586.8" y="886.9" text-anchor="middle">23年11月</text>
<text class="xl" x="682.1" y="886.9" text-anchor="middle">23年12月</text>
<text class="xl" x="777.3" y="886.9" text-anchor="middle">24年1月</text>
<text class="xl" x="872.6" y="886.9" text-anchor="middle">24年2月</text>
<text class="xl" x="967.8" y="886.9" text-anchor="middle">24年3月</text>
<text class="xl" x="1063.1" y="886.9" text-anchor="middle">24年4月</text>
<text class="xl" x="1158.3" y="886.9" text-anchor="middle">24年5月</text>
<text class="xl" x="1253.6" y="886.9" text-anchor="middle">24年6月</text>
<text class="xl" x="1348.8" y="886.9" text-anchor="middle">24年7月</text>
<text class="xl" x="1444.1" y="886.9" text-anchor="middle">24年8月</text>
<text class="ct" x="576" y="389.5">近<tspan font-weight="400" stroke="#000" stroke-width="0.4">12</tspan>个月随车配建充电桩保有量（单位：台）</text>
</svg>
<div class="pg">20</div>
</body></html>
